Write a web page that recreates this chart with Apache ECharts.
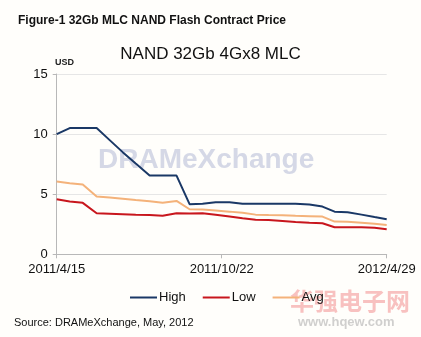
<!DOCTYPE html>
<html>
<head>
<meta charset="utf-8">
<script src="https://cdn.jsdelivr.net/npm/echarts@6/dist/echarts.min.js"></script>
<style>
html,body{margin:0;padding:0;background:#fffefb;}
#c{width:421px;height:337px;}
</style>
</head>
<body>
<div id="c"></div>
<script>
var dates = ['2011/4/15','2011/4/30','2011/5/15','2011/5/31','2011/6/15','2011/6/30','2011/7/15','2011/7/31','2011/8/15','2011/8/31','2011/9/15','2011/9/30','2011/10/15','2011/10/31','2011/11/15','2011/11/30','2011/12/15','2011/12/31','2012/1/15','2012/1/31','2012/2/15','2012/2/29','2012/3/15','2012/3/31','2012/4/15','2012/4/29'];
var high = [10.0,10.5,10.5,10.5,9.5,8.5,7.55,6.55,6.55,6.55,4.17,4.2,4.33,4.33,4.2,4.2,4.2,4.2,4.2,4.15,3.97,3.55,3.5,3.3,3.1,2.92];
var low  = [4.58,4.4,4.28,3.42,3.38,3.34,3.3,3.26,3.2,3.42,3.4,3.42,3.3,3.15,3.0,2.88,2.86,2.78,2.68,2.62,2.58,2.25,2.25,2.25,2.2,2.08];
var avg  = [6.05,5.92,5.8,4.8,4.72,4.62,4.52,4.42,4.28,4.44,3.75,3.72,3.65,3.55,3.45,3.3,3.27,3.24,3.2,3.17,3.14,2.72,2.7,2.62,2.54,2.44];
var xTickLabels = ['2011/4/15','2011/10/22','2012/4/29'];
var yTicks = [0,5,10,15];

function toDay(s){var p=s.split('/');return Date.UTC(+p[0],+p[1]-1,+p[2])/86400000;}
var d0 = toDay(xTickLabels[0]);
var dEnd = toDay(xTickLabels[2]);
function pairs(vals){return dates.map(function(d,i){return [toDay(d)-d0, vals[i]];});}
var labelMap = {};
xTickLabels.forEach(function(l){labelMap[toDay(l)-d0]=l;});

var chart = echarts.init(document.getElementById('c'), null, {renderer:'canvas'});
var F = 'Liberation Sans, Arial, sans-serif';
chart.setOption({
  backgroundColor:'#fffefb',
  animation:false,
  textStyle:{fontFamily:F},
  title:[
    {text:'Figure-1 32Gb MLC NAND Flash Contract Price', left:13, top:10, textStyle:{fontFamily:F,fontSize:12,fontWeight:'bold',color:'#111'}},
    {text:'NAND 32Gb 4Gx8 MLC', left:'center', top:41, textStyle:{fontFamily:F,fontSize:17,fontWeight:'normal',color:'#111'}}
  ],
  graphic:[
    {type:'text', left:55, top:58, style:{text:'USD', font:'bold 9px '+F, fill:'#222'}},
    {type:'text', left:98, top:146, z:0, style:{text:'DRAMeXchange', font:'bold 28px '+F, fill:'rgba(150,160,200,0.4)'}},
    {type:'text', left:290, top:289, z:0, style:{text:'华强电子网', font:'bold 24px "Noto Sans CJK SC"', fill:'rgba(240,120,120,0.45)'}},
    {type:'text', left:298, top:316, z:0, style:{text:'www.hqew.com', font:'bold 13px '+F, fill:'rgba(150,150,150,0.45)'}}
  ],
  grid:{left:56.7, right:34.3, top:74, bottom:82.7, containLabel:false},
  legend:{
    left:125, top:286, itemWidth:27, itemHeight:2, itemGap:17, icon:'rect',
    textStyle:{fontFamily:F,fontSize:13,color:'#111',padding:[0,0,0,-3]},
    data:['High','Low','Avg']
  },
  xAxis:{
    type:'value', min:0, max:dEnd-d0, interval:(dEnd-d0)/2,
    axisLine:{show:true,lineStyle:{color:'#b8b8b8'}},
    axisTick:{show:true,length:4,lineStyle:{color:'#b8b8b8'}},
    splitLine:{show:false},
    axisLabel:{margin:9,fontFamily:F,fontSize:13,color:'#111',showMinLabel:true,showMaxLabel:true,
      formatter:function(v){var k=Math.round(v);return labelMap[k]!==undefined?labelMap[k]:'';}}
  },
  yAxis:{
    type:'value', min:yTicks[0], max:yTicks[yTicks.length-1], interval:yTicks[1]-yTicks[0],
    axisLine:{show:true,lineStyle:{color:'#b8b8b8'}},
    axisTick:{show:true,length:4,lineStyle:{color:'#b8b8b8'}},
    splitLine:{show:true,lineStyle:{color:'#e6e6e6'}},
    axisLabel:{margin:9,fontFamily:F,fontSize:13,color:'#111'}
  },
  series:[
    {name:'Avg', type:'line', data:pairs(avg), symbol:'none', lineStyle:{width:2,color:'#f4b27a'}, itemStyle:{color:'#f4b27a'}, z:3},
    {name:'Low', type:'line', data:pairs(low), symbol:'none', lineStyle:{width:2,color:'#c8161d'}, itemStyle:{color:'#c8161d'}, z:4},
    {name:'High', type:'line', data:pairs(high), symbol:'none', lineStyle:{width:2,color:'#1a3866'}, itemStyle:{color:'#1a3866'}, z:5}
  ]
});
</script>
<div style="position:absolute;left:14px;top:316px;font:11px 'Liberation Sans',Arial,sans-serif;color:#111;">Source: DRAMeXchange, May, 2012</div>
</body>
</html>
